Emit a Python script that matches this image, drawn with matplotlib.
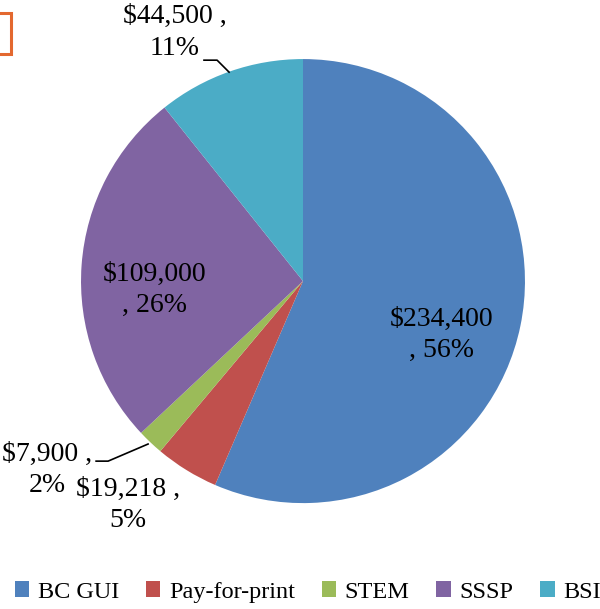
import matplotlib.pyplot as plt
from matplotlib.patches import Rectangle, Patch

categories = ['BC GUI', 'Pay-for-print', 'STEM', 'SSSP', 'BSI']
values = [234400, 19218, 7900, 109000, 44500]
percents = ['56%', '5%', '2%', '26%', '11%']
colors = ['#4F81BD', '#C0504D', '#9BBB59', '#8064A2', '#4BACC6']

plt.rcParams['font.family'] = ['Liberation Serif', 'DejaVu Serif']

fig = plt.figure(figsize=(6, 6.09), dpi=100)
ax = fig.add_axes([0, 0, 1, 1])
ax.pie(values, colors=colors, startangle=90, counterclock=False,
       radius=1, wedgeprops=dict(linewidth=0))
ax.set_xlim(-1.365, 1.338)
ax.set_ylim(-1.477, 1.266)
ax.set_aspect('auto')
ax.axis('off')

lbl = ['${:,}'.format(v) for v in values]
fs = 20
ls = 1.35
ax.text(0.626, -0.243, lbl[0] + '\n, ' + percents[0], ha='center', va='center',
        fontsize=fs, linespacing=ls)
ax.text(-0.667, -0.04, lbl[3] + '\n, ' + percents[3], ha='center', va='center',
        fontsize=fs, linespacing=ls)
ax.text(-0.577, 1.12, lbl[4] + ' ,\n' + percents[4], ha='center', va='center',
        fontsize=fs, linespacing=ls)
ax.text(-1.153, -0.851, lbl[2] + ' ,\n' + percents[2], ha='center', va='center',
        fontsize=fs, linespacing=ls)
ax.text(-0.788, -1.009, lbl[1] + ' ,\n' + percents[1], ha='center', va='center',
        fontsize=fs, linespacing=ls)

# leader lines
ax.plot([-0.333, -0.387, -0.446], [0.941, 0.995, 0.995], color='black', lw=1.2)
ax.plot([-0.698, -0.878, -0.932], [-0.734, -0.811, -0.811], color='black', lw=1.2)

# partial orange box at top left
fig.patches.append(Rectangle((-0.05, 1 - 54 / 609), 0.069, 41 / 609,
                             transform=fig.transFigure, fill=False,
                             edgecolor='#E3682F', linewidth=2.2))

handles = [Patch(facecolor=c, edgecolor='none') for c in colors]
fig.legend(handles, categories, loc='center', ncol=5,
           bbox_to_anchor=(0.513, 1 - 592 / 609), frameon=False,
           fontsize=17.5, handlelength=0.6, handleheight=0.65,
           handletextpad=0.35, columnspacing=1.1, borderpad=0)

fig.savefig('out.png', dpi=100)
